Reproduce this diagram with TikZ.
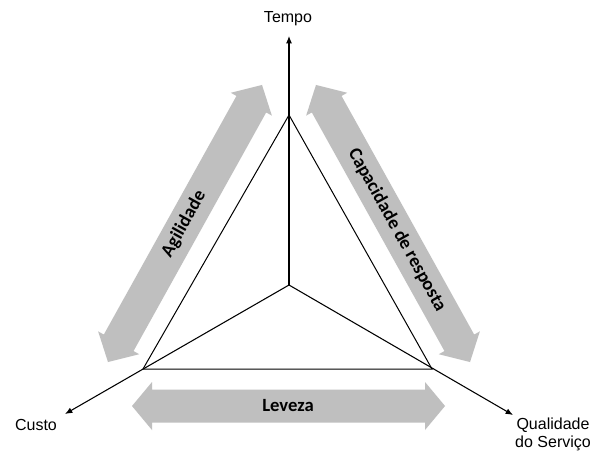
\documentclass[tikz,border=0pt]{standalone}
\usepackage{fontspec}
\setmainfont{Liberation Sans}
\newfontfamily\bandfont{Carlito}
\usetikzlibrary{arrows.meta}
\definecolor{arrgray}{RGB}{191,191,191}
\tikzset{
  axisline/.style={line width=0.8pt, -{Latex[length=5.5pt,width=4.5pt]}},
  sideline/.style={line width=0.75pt},
  axlabel/.style={font=\fontsize{12}{13.5}\selectfont, inner sep=0pt, align=center},
  bandlabel/.style={font=\bandfont\bfseries\fontsize{14}{16}\selectfont, inner sep=0pt},
  band/.style={fill=arrgray, draw=none}
}
\newcommand{\bandarrow}[7]{%
  \begin{scope}[shift={(#1,#2)}, rotate=#3]
    \fill[band] (-#4,0) -- (-#4+#5,#7) -- (-#4+#5,#6) -- (#4-#5,#6) -- (#4-#5,#7) -- (#4,0)
      -- (#4-#5,-#7) -- (#4-#5,-#6) -- (-#4+#5,-#6) -- (-#4+#5,-#7) -- cycle;
  \end{scope}}
\begin{document}
\begin{tikzpicture}[x=0.75pt,y=-0.75pt]
  \fill[white] (0,0) rectangle (592,453);
  \useasboundingbox (0,0) rectangle (592,453);

  % gray double arrows
  \bandarrow{185}{223.5}{60.93}{158.5}{22}{17}{23.5}
  \bandarrow{393}{223.5}{-60.93}{158.5}{22}{17}{23.5}
  \bandarrow{288.5}{406}{0}{156.5}{20}{16.5}{24}

  \node[bandlabel, rotate=60.93] (agil) at (184,224) {Agilidade};
  \node[bandlabel, rotate=-60.93] (cap) at (397,230) {Capacidade de resposta};
  \node[bandlabel] (lev) at (288,406) {Leveza};

  % points
  \coordinate (C) at (289,285);
  \coordinate (T) at (289,115);
  \coordinate (L) at (143,369);
  \coordinate (R) at (432,369);
  \coordinate (tempoEnd) at (289,36);
  \coordinate (custoEnd) at (65,414);
  \coordinate (qualEnd) at (513,415);

  % triangle
  \draw[sideline, line join=miter] (T) -- (L) -- (R) -- cycle;

  % axes
  \draw[axisline] (C) -- (tempoEnd);
  \draw[axisline] (C) -- (custoEnd);
  \draw[axisline] (C) -- (qualEnd);

  % labels
  \node[axlabel] (tempo) at (288,19) {Tempo};
  \node[axlabel] (custo) at (36,425) {Custo};
  \node[axlabel] (qual) at (553,434) {Qualidade\\do Serviço};
\end{tikzpicture}
\end{document}
